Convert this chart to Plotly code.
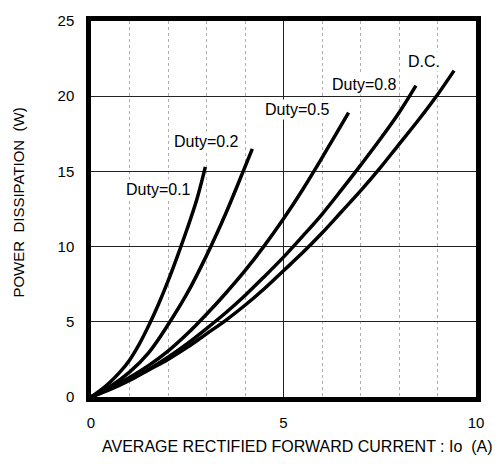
import plotly.graph_objects as go

# Average rectified forward current Io (A) and power dissipation (W), per duty cycle
duty01_io = [0, 0.25, 0.5, 0.75, 1.0, 1.25, 1.5, 1.75, 2.0, 2.25, 2.5, 2.75, 2.97]
duty01_pw = [0, 0.45, 1.0, 1.65, 2.45, 3.5, 4.75, 6.15, 7.7, 9.4, 11.2, 13.15, 15.3]

duty02_io = [0, 0.5, 1.0, 1.5, 2.0, 2.5, 3.0, 3.5, 4.0, 4.19]
duty02_pw = [0, 0.7, 1.65, 2.95, 4.8, 6.9, 9.4, 12.2, 15.3, 16.5]

duty05_io = [0, 0.5, 1.0, 1.5, 2.0, 2.5, 3.0, 3.5, 4.0, 4.5, 5.0, 5.5, 6.0, 6.69]
duty05_pw = [0, 0.6, 1.3, 2.1, 3.05, 4.2, 5.5, 6.9, 8.4, 10.05, 11.85, 13.8, 15.9, 18.9]

duty08_io = [0, 0.5, 1.0, 1.5, 2.0, 2.5, 3.0, 3.5, 4.0, 4.5, 5.0, 5.5, 6.0, 6.5, 7.0, 7.5, 8.0, 8.44]
duty08_pw = [0, 0.55, 1.15, 1.85, 2.65, 3.55, 4.55, 5.6, 6.75, 8.0, 9.3, 10.7, 12.15, 13.75, 15.4, 17.1, 18.9, 20.7]

dc_io = [0, 0.5, 1.0, 1.5, 2.0, 2.5, 3.0, 3.5, 4.0, 4.5, 5.0, 5.5, 6.0, 6.5, 7.0, 7.5, 8.0, 8.5, 9.0, 9.43]
dc_pw = [0, 0.5, 1.1, 1.8, 2.5, 3.3, 4.2, 5.1, 6.1, 7.2, 8.4, 9.6, 10.9, 12.3, 13.7, 15.2, 16.8, 18.4, 20.1, 21.7]

curves = [
    (duty01_io, duty01_pw),
    (duty02_io, duty02_pw),
    (duty05_io, duty05_pw),
    (duty08_io, duty08_pw),
    (dc_io, dc_pw),
]

# Curve labels and where they sit (data coordinates)
label_text = ["Duty=0.1", "Duty=0.2", "Duty=0.5", "Duty=0.8", "D.C."]
label_x = [1.76, 3.0, 5.37, 7.11, 8.65]
label_y = [13.8, 17.0, 19.1, 20.8, 22.3]

x_ticks = [0, 5, 10]
y_ticks = [0, 5, 10, 15, 20, 25]

FONT = "Arial, Liberation Sans, sans-serif"

fig = go.Figure()
for io, pw in curves:
    fig.add_trace(go.Scatter(
        x=io, y=pw, mode="lines",
        line=dict(color="black", width=3.5, shape="spline", smoothing=1.0),
        showlegend=False, hoverinfo="skip",
    ))

for t, x, y in zip(label_text, label_x, label_y):
    fig.add_annotation(
        x=x, y=y, text=t, showarrow=False,
        font=dict(family=FONT, size=16, color="black"),
        bgcolor="white", borderpad=1,
    )

# Axis titles
fig.add_annotation(
    xref="paper", yref="paper", x=0.536, y=0, yanchor="middle", yshift=-49,
    text="AVERAGE RECTIFIED FORWARD CURRENT : Io&nbsp;&nbsp;(A)", showarrow=False,
    font=dict(family=FONT, size=16, color="black"),
)
fig.add_annotation(
    xref="paper", yref="paper", x=0, xanchor="center", xshift=-72, y=0.517,
    text="POWER&nbsp;&nbsp;DISSIPATION&nbsp;&nbsp;(W)", textangle=-90, showarrow=False,
    font=dict(family=FONT, size=15, color="black"),
)

fig.update_layout(
    width=504, height=464,
    margin=dict(l=91, r=28, t=16, b=67),
    paper_bgcolor="white", plot_bgcolor="white",
    font=dict(family=FONT, size=15, color="black"),
    xaxis=dict(
        range=[0, 10], tickvals=x_ticks, ticktext=[str(v) for v in x_ticks],
        showgrid=True, gridcolor="#222222", gridwidth=1.3,
        minor=dict(dtick=1, showgrid=True, gridcolor="#b0b0b0", griddash="dot", gridwidth=1),
        showline=True, linecolor="black", linewidth=4.5, mirror=True,
        ticks="outside", ticklen=8, tickcolor="rgba(0,0,0,0)",
        zeroline=False,
    ),
    yaxis=dict(
        range=[0, 25], tickvals=y_ticks, ticktext=[str(v) for v in y_ticks],
        showgrid=True, gridcolor="#222222", gridwidth=1.3,
        showline=True, linecolor="black", linewidth=4.5, mirror=True,
        ticks="outside", ticklen=9, tickcolor="rgba(0,0,0,0)",
        zeroline=False,
    ),
)

fig.write_html("out.html")
